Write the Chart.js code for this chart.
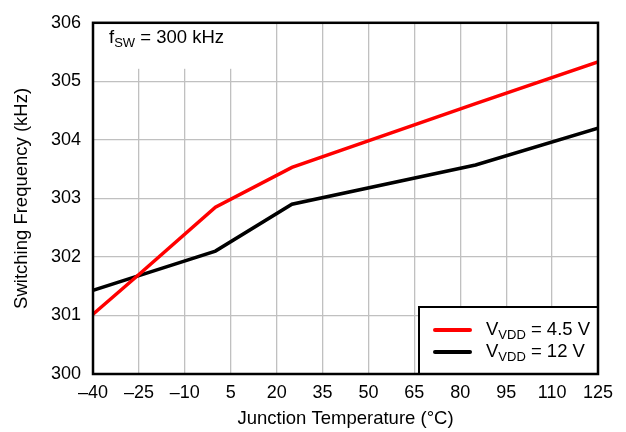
<!DOCTYPE html>
<html>
<head>
<meta charset="utf-8">
<script src="https://cdn.jsdelivr.net/npm/chart.js@4/dist/chart.umd.min.js"></script>
<style>
  html, body { margin:0; padding:0; background:#fff; }
  #wrap { width:626px; height:432px; }
</style>
</head>
<body>
<div id="wrap"><canvas id="c" width="626" height="432"></canvas></div>
<script>
// junction temperature (°C) and switching frequency (kHz)
const temps   = [-40, -25, 0, 25, 85, 125];
const vdd45   = [301.02, 301.70, 302.85, 303.53, 304.62, 305.33];
const vdd12   = [301.43, 301.68, 302.10, 302.90, 303.57, 304.20];
const xTicks  = [-40, -25, -10, 5, 20, 35, 50, 65, 80, 95, 110, 125];
const yTicks  = [300, 301, 302, 303, 304, 305, 306];
const seriesNames = ['4.5 V', '12 V'];
const seriesColors = ['#ff0000', '#000000'];

const FONT = 'Liberation Sans, Arial, Helvetica, sans-serif';
const pts = (ys)=> temps.map((t,i)=> ({x:t, y:ys[i]}));

// frame, note box, and legend drawn on the canvas
const decor = {
  id:'decor',
  beforeDatasetsDraw(chart){
    const {ctx, chartArea:a} = chart;
    ctx.save();
    ctx.fillStyle = '#fff';
    // note box covers grid in top-left corner
    ctx.fillRect(a.left, a.top, 160, 46);
    ctx.restore();
  },
  afterDatasetsDraw(chart){
    const {ctx, chartArea:a} = chart;
    ctx.save();
    // note text
    ctx.fillStyle = '#000';
    ctx.textBaseline = 'alphabetic';
    ctx.font = '18.5px ' + FONT;
    let x = 109, y = 43;
    ctx.fillText('f', x, y); x += ctx.measureText('f').width;
    ctx.font = '13px ' + FONT;
    ctx.fillText('SW', x, y + 4); x += ctx.measureText('SW').width;
    ctx.font = '18.5px ' + FONT;
    ctx.fillText(' = 300 kHz', x, y);

    // legend box
    const bx = 419, by = 307, bw = a.right - bx, bh = a.bottom - by;
    ctx.fillStyle = '#fff';
    ctx.fillRect(bx, by, bw, bh);
    ctx.strokeStyle = '#000';
    ctx.lineWidth = 2;
    ctx.strokeRect(bx, by, bw, bh);
    const rows = [330, 352];
    seriesNames.forEach((n,i)=>{
      const ry = rows[i];
      ctx.strokeStyle = seriesColors[i];
      ctx.lineWidth = 4;
      ctx.lineCap = 'round';
      ctx.beginPath(); ctx.moveTo(435, ry); ctx.lineTo(470, ry); ctx.stroke();
      ctx.fillStyle = '#000';
      ctx.textBaseline = 'middle';
      let tx = 486;
      ctx.font = '18.5px ' + FONT;
      ctx.fillText('V', tx, ry); tx += ctx.measureText('V').width;
      ctx.font = '13px ' + FONT;
      ctx.fillText('VDD', tx, ry + 5); tx += ctx.measureText('VDD').width;
      ctx.font = '18.5px ' + FONT;
      ctx.fillText(' = ' + n, tx, ry);
    });

    // plot frame
    ctx.strokeStyle = '#000';
    ctx.lineWidth = 2.5;
    ctx.lineCap = 'butt';
    ctx.strokeRect(a.left, a.top, a.right - a.left, a.bottom - a.top);
    ctx.restore();
  }
};

new Chart(document.getElementById('c'), {
  type:'line',
  data:{
    datasets:[
      { label:'VVDD = ' + seriesNames[0], data:pts(vdd45), borderColor:seriesColors[0], borderWidth:3.5, pointRadius:0, tension:0 },
      { label:'VVDD = ' + seriesNames[1], data:pts(vdd12), borderColor:seriesColors[1], borderWidth:3.5, pointRadius:0, tension:0 },
    ]
  },
  options:{
    responsive:false,
    animation:false,
    layout:{ padding:{ left:0, right:28, top:14, bottom:0 } },
    plugins:{ legend:{ display:false }, tooltip:{ enabled:false } },
    scales:{
      x:{
        type:'linear', min:-40, max:125,
        afterBuildTicks:(s)=>{ s.ticks = xTicks.map(v=>({value:v})); },
        afterFit:(s)=>{ s.height = 58; },
        grid:{ color:'#c0c0c0', lineWidth:1.3, drawTicks:false },
        border:{ display:false },
        ticks:{ color:'#000', font:{ family:FONT, size:18 }, padding:8, maxRotation:0,
                callback:(v)=> String(v).replace('-', '\u2013') },
        title:{ display:true, text:'Junction Temperature (°C)', color:'#000',
                font:{ family:FONT, size:18.5 }, padding:{ top:0, bottom:2 } }
      },
      y:{
        type:'linear', min:300, max:306,
        afterBuildTicks:(s)=>{ s.ticks = yTicks.map(v=>({value:v})); },
        afterFit:(s)=>{ s.width = 93; },
        grid:{ color:'#c0c0c0', lineWidth:1.3, drawTicks:false },
        border:{ display:false },
        ticks:{ color:'#000', font:{ family:FONT, size:18 }, padding:12 },
        title:{ display:true, text:'Switching Frequency (kHz)', color:'#000',
                font:{ family:FONT, size:18.5 }, padding:{ top:11, bottom:0 } }
      }
    }
  },
  plugins:[decor]
});
</script>
</body>
</html>
